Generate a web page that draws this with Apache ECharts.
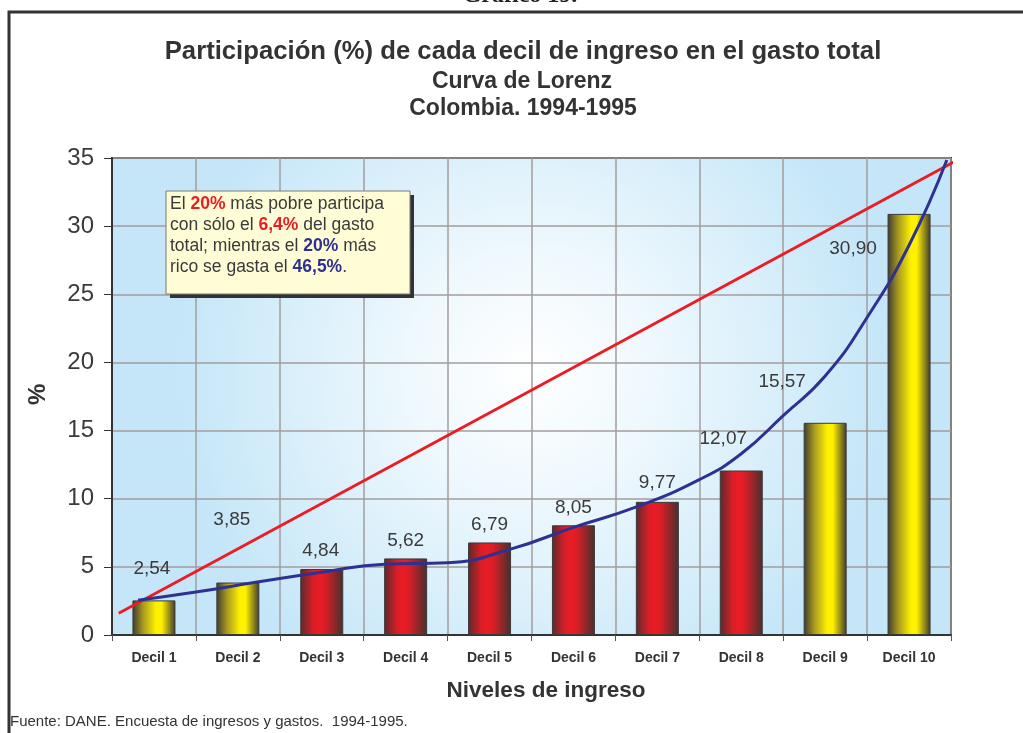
<!DOCTYPE html>
<html>
<head>
<meta charset="utf-8">
<script src="https://cdn.jsdelivr.net/npm/echarts@6/dist/echarts.min.js"></script>
<style>
html,body{margin:0;padding:0;background:#fff;}
#c{width:1023px;height:733px;}
</style>
</head>
<body>
<div id="c"></div>
<script>
// ---- data ----
const categories = ['Decil 1','Decil 2','Decil 3','Decil 4','Decil 5','Decil 6','Decil 7','Decil 8','Decil 9','Decil 10'];
const shares = [2.54, 3.85, 4.84, 5.62, 6.79, 8.05, 9.77, 12.07, 15.57, 30.90];
const barKinds = ['y','y','r','r','r','r','r','r','y','y'];
// Lorenz curve as drawn (position on decile scale, value)
const lorenzX = [-0.19, 0.5, 1.25, 2, 2.75, 3.5, 4.25, 5, 5.75, 6.5, 7, 7.5, 8, 8.5, 9, 9.45];
const lorenzY = [2.55, 3.15, 3.9, 4.6, 5.2, 5.3, 6.3, 7.9, 9.4, 11.4, 13.3, 16.1, 19.0, 23.3, 28.6, 34.85];
// equality line end points
const equalX = [-0.42, 9.56];
const equalY = [1.6, 34.8];
const yTicks = [0, 5, 10, 15, 20, 25, 30, 35];

// ---- label placement (style, separate from data) ----
const labelOffsets = [[-2,-17],[-6,-48],[-1,-4],[0,-3],[0,-3],[0,-3],[0,-5],[-18,-17],[-43,-27],[-56,49]];

const fontFam = '"Liberation Sans", Arial, Helvetica, sans-serif';
function barGrad(kind){
  if(kind==='y'){
    return new echarts.graphic.LinearGradient(0,0,1,0,[
      {offset:0,color:'#3d3a30'},
      {offset:0.25,color:'#a89a20'},
      {offset:0.55,color:'#fff200'},
      {offset:0.68,color:'#fff000'},
      {offset:1,color:'#3d3a30'}]);
  }
  return new echarts.graphic.LinearGradient(0,0,1,0,[
    {offset:0,color:'#5a2a2c'},
    {offset:0.3,color:'#d81e27'},
    {offset:0.45,color:'#ec1c24'},
    {offset:0.6,color:'#d41f26'},
    {offset:1,color:'#45302f'}]);
}

const barData = shares.map((v,i)=>({
  value: v,
  itemStyle:{color: barGrad(barKinds[i])},
  label:{offset: labelOffsets[i]}
}));

function ctext(t, x, y, size){
  return {type:'text', x:x, y:y, style:{text:t, fontSize:size, fontWeight:'bold', fill:'#333',
    fontFamily:fontFam, align:'center', verticalAlign:'middle'}};
}

const chart = echarts.init(document.getElementById('c'), null, {renderer:'canvas'});
chart.setOption({
  animation:false,
  textStyle:{fontFamily:fontFam},
  grid:{left:112,right:72,top:158,bottom:98,show:true,borderColor:'#333',borderWidth:2,
    backgroundColor: new echarts.graphic.RadialGradient(0.5,0.45,0.75,[
      {offset:0,color:'#ffffff'},
      {offset:0.35,color:'#eef8fd'},
      {offset:1,color:'#c4e6f8'}])},
  xAxis:[
    {type:'category', data:categories, boundaryGap:true,
     axisLine:{show:true,onZero:false,lineStyle:{color:'#333',width:2}},
     axisTick:{show:true,length:6,lineStyle:{color:'#555'}},
     splitLine:{show:true,lineStyle:{color:'#a39d9d',width:1.5}},
     axisLabel:{fontSize:14,fontWeight:'bold',color:'#333',margin:16}},
    {type:'value', min:-0.5, max:9.5, show:false}
  ],
  yAxis:{type:'value', min:0, max:35, interval:5,
    axisLine:{show:true,onZero:false,lineStyle:{color:'#333',width:2}},
    axisTick:{show:true,length:8,lineStyle:{color:'#333'}},
    splitLine:{show:true,lineStyle:{color:'#a39d9d',width:1.5}},
    axisLabel:{fontSize:24,color:'#3a3a3a',margin:18,
      formatter:(v)=> yTicks.includes(v)? String(v):''}
  },
  series:[
    {type:'bar', xAxisIndex:0, data:barData, barWidth:43,
     itemStyle:{borderColor:'#3a3a3a',borderWidth:1},
     label:{show:true,position:'top',distance:5,fontSize:19,color:'#3a3a3a',
       formatter:(p)=>p.value.toFixed(2).replace('.',',')}, z:2},
    {type:'line', xAxisIndex:1, data:equalX.map((x,i)=>[x,equalY[i]]),
     showSymbol:false, clip:false, lineStyle:{color:'#ec1c24',width:2.8}, z:3},
    {type:'line', xAxisIndex:1, data:lorenzX.map((x,i)=>[x,lorenzY[i]]),
     showSymbol:false, smooth:0.5, clip:false, lineStyle:{color:'#2e3192',width:3}, z:4}
  ],
  graphic:[
    {type:'rect', shape:{x:9,y:12,width:1100,height:800}, style:{fill:'none',stroke:'#333',lineWidth:3}, z:0},
    {type:'text', x:520, y:-16, style:{text:'Gráfico 19.', fontSize:24, fontWeight:'bold',
      fontFamily:'"Liberation Serif", "Times New Roman", serif', fill:'#222', align:'center'}},
    ctext('Participación (%) de cada decil de ingreso en el gasto total', 523, 52, 25.7),
    ctext('Curva de Lorenz', 522, 82, 23),
    ctext('Colombia. 1994-1995', 523, 109, 23),
    ctext('Niveles de ingreso', 546, 691, 22.5),
    {type:'text', x:26, y:405, rotation:Math.PI/2, style:{text:'%', fontSize:24, fontWeight:'bold', fill:'#333', fontFamily:fontFam}},
    {type:'text', x:10, y:714, style:{text:'Fuente: DANE. Encuesta de ingresos y gastos.  1994-1995.', fontSize:15, fill:'#333', fontFamily:fontFam}},
    {type:'rect', shape:{x:170,y:195,width:244,height:103}, style:{fill:'#333'}, z:10},
    {type:'rect', shape:{x:166,y:191,width:244,height:103}, style:{fill:'#fffdd6',stroke:'#7a7a7a',lineWidth:1}, z:11},
    {type:'text', x:170, y:194, z:12, style:{
      text:'{n|El }{r|20%}{n| más pobre participa}\n{n|con sólo el }{r|6,4%}{n| del gasto}\n{n|total; mientras el }{b|20%}{n| más}\n{n|rico se gasta el }{b|46,5%}{n|.}',
      fontFamily:fontFam, fontSize:17.5, lineHeight:21,
      rich:{
        n:{fontSize:17.5,fill:'#3a3a3a',color:'#3a3a3a',lineHeight:21,fontFamily:fontFam},
        r:{fontSize:17.5,fill:'#ec1c24',color:'#ec1c24',fontWeight:'bold',lineHeight:21,fontFamily:fontFam},
        b:{fontSize:17.5,fill:'#2e3192',color:'#2e3192',fontWeight:'bold',lineHeight:21,fontFamily:fontFam}
      }}}
  ]
});
</script>
</body>
</html>
